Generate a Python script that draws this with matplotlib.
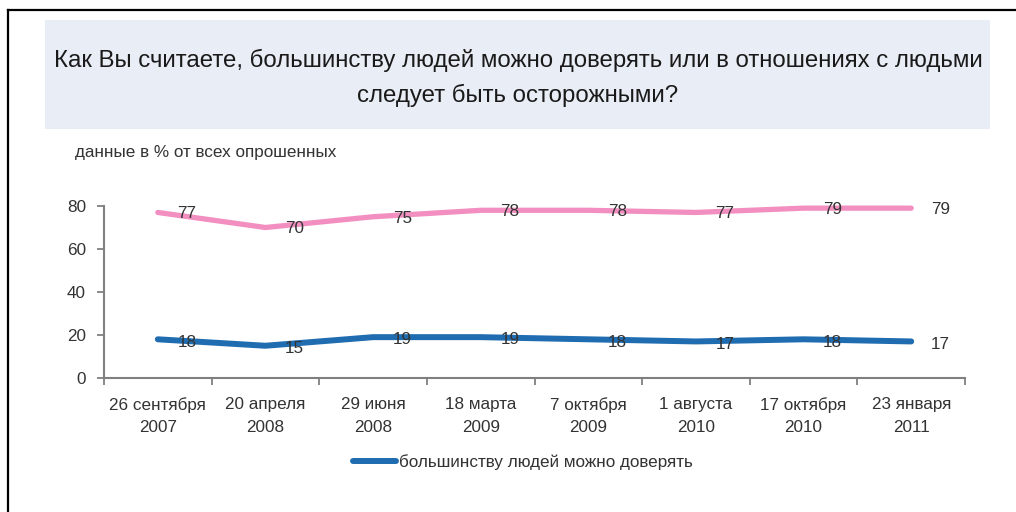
import matplotlib
matplotlib.use("Agg")
import matplotlib.pyplot as plt
from matplotlib.patches import Rectangle
from matplotlib.lines import Line2D

plt.rcParams['font.family'] = ['Liberation Sans', 'DejaVu Sans']

# survey dates (x categories)
dates = ["26 сентября\n2007", "20 апреля\n2008", "29 июня\n2008", "18 марта\n2009",
         "7 октября\n2009", "1 августа\n2010", "17 октября\n2010", "23 января\n2011"]
# "следует быть осторожными" (pink) and "можно доверять" (blue), % of respondents
careful = [77, 70, 75, 78, 78, 77, 79, 79]
trust = [18, 15, 19, 19, 18, 17, 18, 17]
trust_label = "большинству людей можно доверять"
title = ("Как Вы считаете, большинству людей можно доверять или в отношениях с людьми\n"
         "следует быть осторожными?")
subtitle = "данные в % от всех опрошенных"

W, H = 1016, 512
fig = plt.figure(figsize=(W / 100, H / 100), dpi=100)

# frame lines (top and left)
fig.add_artist(Line2D([8 / W, 1], [1 - 10 / H, 1 - 10 / H], color='black', lw=1.6))
fig.add_artist(Line2D([8 / W, 8 / W], [0, 1 - 10 / H], color='black', lw=1.6))

# title box
fig.patches.append(Rectangle((45 / W, 1 - 129 / H), 945 / W, 109 / H,
                             transform=fig.transFigure, facecolor='#E9EDF5',
                             edgecolor='none', zorder=0))
fig.text(518 / W, 1 - 78 / H, title, ha='center', va='center', fontsize=17.3,
         color='#1a1a1a', linespacing=1.65)
fig.text(75 / W, 1 - 153 / H, subtitle, ha='left', va='center', fontsize=12.3, color='#333333')

ax = fig.add_axes([104 / W, 1 - 378 / H, (965 - 104) / W, (378 - 206) / H])
x = list(range(len(dates)))
ax.plot(x, careful, color='#F28FC0', lw=3.8, solid_capstyle='round', clip_on=False)
ax.plot(x, trust, color='#1F6CB0', lw=4.3, solid_capstyle='round', clip_on=False,
        label=trust_label)

for xi, v in zip(x, careful):
    ax.annotate(str(v), (xi, v), xytext=(21, -1), textcoords='offset points',
                ha='center', va='center', fontsize=12.3, color='#333333')
for xi, v in zip(x, trust):
    ax.annotate(str(v), (xi, v), xytext=(21, -2), textcoords='offset points',
                ha='center', va='center', fontsize=12.3, color='#333333')

ax.set_xlim(-0.5, len(dates) - 0.5)
ax.set_ylim(0, 80)
ax.set_yticks([0, 20, 40, 60, 80])
ax.set_xticks(x)
ax.set_xticklabels(dates, fontsize=12.3, color='#333333', linespacing=1.6)
ax.set_xticks([i - 0.5 for i in range(len(dates) + 1)], minor=True)
ax.tick_params(axis='x', which='major', length=0, pad=14)
ax.tick_params(axis='x', which='minor', length=5, width=1.3, color='#808080', direction='out')
ax.tick_params(axis='y', length=5, width=1.3, color='#808080', labelsize=12.3,
               labelcolor='#333333', pad=8)
for s in ['top', 'right']:
    ax.spines[s].set_visible(False)
for s in ['left', 'bottom']:
    ax.spines[s].set_color('#808080')
    ax.spines[s].set_linewidth(1.5)

fig.legend(loc='center left', bbox_to_anchor=(338 / W, 1 - 462 / H), frameon=False,
           fontsize=12.3, handlelength=2.5, handletextpad=0.15, labelcolor='#333333')

fig.savefig("out.png", dpi=100)
